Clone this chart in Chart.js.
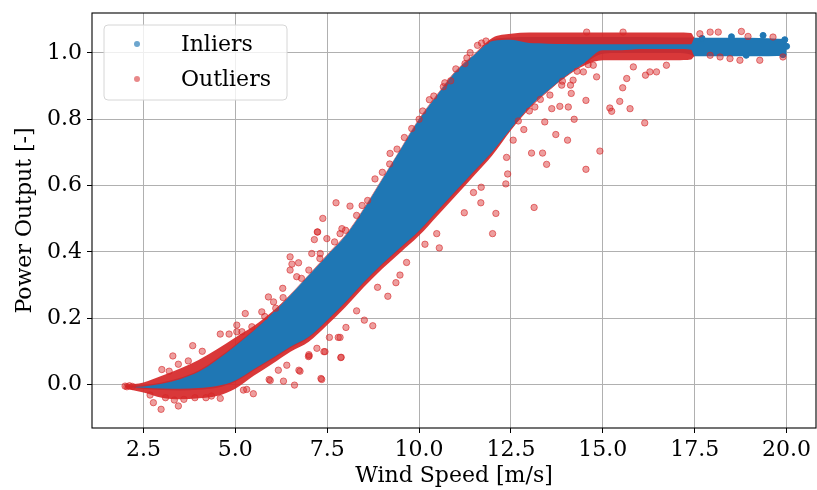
<!DOCTYPE html>
<html>
<head>
<meta charset="utf-8">
<script src="https://cdn.jsdelivr.net/npm/chart.js@4/dist/chart.umd.min.js"></script>
<style>
  html, body { margin: 0; padding: 0; background: #fff; }
  canvas { display: block; }
</style>
</head>
<body>
<canvas id="powerCurve" width="817" height="490"></canvas>
<script>
/* ================================================
   WIND TURBINE POWER CURVE — INLIERS / OUTLIERS
================================================ */

const X_TICKS = [2.5, 5.0, 7.5, 10.0, 12.5, 15.0, 17.5, 20.0];
const Y_TICKS = [0.0, 0.2, 0.4, 0.6, 0.8, 1.0];

// dense point cloud, read as band edges along wind speed
const BAND_SPEED     = [2.0, 2.5, 3.0, 3.5, 4.0, 4.5, 5.0, 5.5, 6.0, 6.5, 7.0, 7.5, 8.0, 8.5, 9.0, 9.5, 10.0, 10.5, 11.0, 11.5, 12.0, 12.5, 13.0, 13.5, 14.0, 14.5, 15.0, 15.5, 16.0, 17.0, 17.4, 17.5, 18.0, 19.0, 20.0];
const INLIER_UPPER   = [-0.004, -0.002, 0.006, 0.02, 0.042, 0.078, 0.12, 0.165, 0.215, 0.27, 0.33, 0.39, 0.45, 0.53, 0.62, 0.71, 0.80, 0.875, 0.945, 0.995, 1.04, 1.047, 1.048, 1.048, 1.048, 1.048, 1.048, 1.048, 1.048, 1.047, 1.047, 1.046, 1.046, 1.046, 1.042];
const INLIER_LOWER   = [-0.008, -0.014, -0.017, -0.018, -0.016, -0.01, 0.008, 0.042, 0.075, 0.11, 0.14, 0.19, 0.245, 0.305, 0.36, 0.41, 0.46, 0.52, 0.58, 0.64, 0.70, 0.77, 0.835, 0.885, 0.93, 0.968, 0.998, 1.0, 1.0, 1.0, 0.995, 0.99, 0.99, 0.99, 0.992];
// dense red fringe on the upper side (plateau strip ends near 17.4 m/s)
const FRINGE_TOP_IN  = [-0.008, -0.006, 0.002, 0.016, 0.038, 0.074, 0.116, 0.162, 0.213, 0.27, 0.33, 0.39, 0.45, 0.53, 0.62, 0.71, 0.80, 0.875, 0.945, 0.995, 1.036, 1.04, 1.03, 1.028, 1.027, 1.026, 1.026, 1.026, 1.026, 1.026, 1.026, 1.046, 1.046, 1.046, 1.042];
const FRINGE_TOP_OUT = [-0.002, 0.006, 0.026, 0.048, 0.074, 0.106, 0.142, 0.176, 0.219, 0.272, 0.332, 0.392, 0.452, 0.532, 0.622, 0.712, 0.802, 0.877, 0.947, 0.997, 1.046, 1.058, 1.062, 1.062, 1.062, 1.062, 1.062, 1.062, 1.062, 1.062, 1.06, 1.046, 1.046, 1.046, 1.042];
// dense red fringe on the lower side
const FRINGE_BOT_IN  = [-0.006, -0.01, -0.012, -0.013, -0.011, -0.005, 0.012, 0.046, 0.079, 0.114, 0.144, 0.194, 0.249, 0.309, 0.364, 0.414, 0.464, 0.524, 0.584, 0.644, 0.703, 0.772, 0.836, 0.886, 0.931, 0.97, 1.008, 1.008, 1.012, 1.012, 1.01, 0.99, 0.99, 0.99, 0.992];
const FRINGE_BOT_OUT = [-0.012, -0.024, -0.04, -0.045, -0.042, -0.035, -0.013, 0.026, 0.062, 0.099, 0.129, 0.179, 0.234, 0.294, 0.349, 0.399, 0.449, 0.509, 0.569, 0.63, 0.692, 0.767, 0.832, 0.883, 0.928, 0.962, 0.978, 0.978, 0.978, 0.978, 0.98, 0.99, 0.99, 0.99, 0.992];

// a few inlier points standing out of the cloud
const INLIER_SPEED = [19.36, 18.5, 19.95, 19.9, 17.7, 18.9, 20.0];
const INLIER_POWER = [1.053, 1.049, 1.04, 0.995, 1.044, 0.993, 1.02];

// sparse outliers away from the dense edges
const OUTLIER_SPEED = [2.0, 2.05, 2.12, 2.2, 2.68, 2.77, 2.98, 3.34, 3.45, 3.1, 3.6, 3.9, 4.2, 4.59, 4.35, 5.22, 5.31, 5.49, 5.92, 5.95, 6.31, 6.61, 6.17, 6.73, 6.76, 7.01, 7.35, 7.41, 7.85, 7.87, 7.44, 7.88, 7.0,
  3.30, 3.45, 3.84, 3.72, 3.0, 3.2, 4.1, 4.59, 4.83, 5.04, 5.04, 5.27, 5.45, 5.18, 5.72, 5.90, 6.04, 6.29, 6.49, 6.54, 6.49, 6.72, 6.67, 7.08, 7.31, 7.24, 7.49, 7.85, 7.15, 7.23, 7.38, 7.74, 8.12,
  5.8, 6.3, 6.8, 7.0, 7.3, 7.7, 8.0, 8.3, 8.6, 9.0, 9.4, 9.6, 10.1, 10.4, 10.7, 11.0, 11.3, 6.1, 7.9, 8.45, 9.2,
  8.30, 8.51, 8.74, 8.87, 9.15, 9.37, 9.48, 9.66, 8.01, 7.56, 7.80, 7.22, 6.99, 6.40, 7.33, 10.16, 10.48, 10.55, 11.23, 11.48, 11.69, 11.68, 12.00, 12.09, 12.36, 12.41, 12.38, 12.56, 12.85, 13.06, 13.13, 13.36, 13.47, 13.42, 13.72, 14.04, 14.22, 13.83, 14.06, 14.14, 14.54, 14.54, 14.92, 13.61, 13.56, 13.15, 13.88, 14.12, 14.19, 14.47, 14.74, 14.83,
  12.7, 13.0, 13.3, 13.9, 14.3, 14.6,
  8.8, 9.21, 9.80, 10.0, 10.28, 10.66, 10.86, 11.25, 11.39, 11.59, 11.82, 11.7,
  15.19, 15.24, 15.46, 15.74, 15.54, 15.65, 15.83, 16.16, 16.28, 16.46, 16.14, 16.73, 14.56, 15.55, 17.64, 17.92, 18.14, 18.77, 18.95, 19.63, 19.90, 19.27, 18.46, 18.73, 17.92, 18.19];
const OUTLIER_POWER = [-0.005, -0.007, -0.004, -0.006, -0.032, -0.055, -0.075, -0.047, -0.065, -0.04, -0.045, -0.04, -0.04, -0.042, -0.035, -0.017, -0.015, -0.028, 0.015, 0.012, 0.01, -0.002, 0.043, 0.043, 0.04, 0.086, 0.015, 0.099, 0.142, 0.081, 0.099, 0.082, 0.09,
  0.086, 0.061, 0.117, 0.071, 0.045, 0.04, 0.1, 0.152, 0.152, 0.159, 0.179, 0.214, 0.174, 0.159, 0.219, 0.264, 0.249, 0.29, 0.385, 0.363, 0.345, 0.367, 0.325, 0.395, 0.395, 0.46, 0.44, 0.455, 0.437, 0.46, 0.501, 0.548, 0.538,
  0.205, 0.262, 0.32, 0.345, 0.38, 0.43, 0.465, 0.51, 0.555, 0.64, 0.71, 0.745, 0.825, 0.87, 0.91, 0.952, 0.985, 0.23, 0.47, 0.54, 0.665,
  0.222, 0.194, 0.177, 0.293, 0.266, 0.307, 0.33, 0.368, 0.172, 0.142, 0.142, 0.109, 0.084, 0.058, 0.018, 0.423, 0.455, 0.412, 0.518, 0.579, 0.595, 0.548, 0.455, 0.516, 0.605, 0.635, 0.685, 0.737, 0.769, 0.698, 0.534, 0.698, 0.664, 0.792, 0.754, 0.737, 0.8, 0.839, 0.837, 0.878, 0.857, 0.649, 0.704, 0.832, 0.873, 0.837, 0.903, 0.903, 0.918, 0.943, 0.963, 0.928,
  0.795, 0.825, 0.86, 0.915, 0.945, 0.965,
  0.62, 0.697, 0.772, 0.8, 0.859, 0.898, 0.916, 0.968, 1.001, 1.023, 1.036, 1.03,
  0.834, 0.824, 0.854, 0.832, 0.895, 0.923, 0.958, 0.933, 0.943, 0.943, 0.789, 0.963, 1.063, 1.063, 1.058, 1.063, 1.063, 1.065, 1.05, 1.048, 0.988, 0.978, 0.983, 0.978, 0.993, 0.988];

const BLUE      = '#1f77b4';
const RED_DENSE = 'rgba(214,39,40,0.92)';
const FONT      = 'DejaVu Serif';
const FRAME_RIGHT_GAP = 1;   // px between plot frame and canvas edge

function toPoints(xs, ys) {
  return xs.map((x, i) => ({ x: x, y: ys[i] }));
}

function bandEdge(ys, order, fill, color) {
  return {
    data: toPoints(BAND_SPEED, ys),
    order: order,
    fill: fill,
    backgroundColor: color,
    borderColor: 'rgba(0,0,0,0)',
    borderWidth: 1,
    pointRadius: 0,
    cubicInterpolationMode: 'monotone',
    legendHidden: true,
  };
}

/* ================================================
   PLUGINS — frame width, spines, in-axes legend
================================================ */
// Chart.js keeps a few px of label overhang on the right; the figure does not
const frameFit = {
  id: 'frameFit',
  afterLayout(chart) {
    const area = chart.chartArea;
    const xs = chart.scales.x;
    const right = chart.width - FRAME_RIGHT_GAP;
    area.right = right;
    area.width = right - area.left;
    xs.right = right;
    xs.width = right - xs.left;
    xs.configure();
  },
};

const spines = {
  id: 'spines',
  afterDatasetsDraw(chart) {
    const { ctx, chartArea: a } = chart;
    ctx.save();
    ctx.strokeStyle = '#000';
    ctx.lineWidth = 1.1;
    ctx.strokeRect(a.left, a.top, a.right - a.left, a.bottom - a.top);
    ctx.restore();
  },
};

const boxLegend = {
  id: 'boxLegend',
  afterDraw(chart) {
    const ctx = chart.ctx;
    const items = chart.data.datasets.filter(d => !d.legendHidden);
    const x = 104, y = 25, w = 183, h = 75, r = 4;
    ctx.save();
    ctx.beginPath();
    ctx.roundRect(x, y, w, h, r);
    ctx.fillStyle = 'rgba(255,255,255,0.8)';
    ctx.fill();
    ctx.strokeStyle = '#d6d6d6';
    ctx.lineWidth = 1;
    ctx.stroke();
    ctx.font = `22px "${FONT}"`;
    ctx.textBaseline = 'middle';
    items.forEach((d, i) => {
      const cy = 44 + i * 35;
      ctx.beginPath();
      ctx.arc(137, cy, 3, 0, Math.PI * 2);
      ctx.fillStyle = d.legendColor;
      ctx.fill();
      ctx.fillStyle = '#000';
      ctx.fillText(d.label, 181, cy + 1);
    });
    ctx.restore();
  },
};

/* ================================================
   CHART
================================================ */
function buildPowerCurve() {
  const ctx = document.getElementById('powerCurve');

  const axisTicks = vals => scale => { scale.ticks = vals.map(v => ({ value: v })); };

  new Chart(ctx, {
    type: 'line',
    data: {
      datasets: [
        // 0,1 — inlier cloud
        bandEdge(INLIER_LOWER, 3, false, BLUE),
        bandEdge(INLIER_UPPER, 3, '-1', BLUE),
        // 2,3 — dense outlier fringe above
        bandEdge(FRINGE_TOP_IN, 2, false, RED_DENSE),
        bandEdge(FRINGE_TOP_OUT, 2, '-1', RED_DENSE),
        // 4,5 — dense outlier fringe below
        bandEdge(FRINGE_BOT_OUT, 2, false, RED_DENSE),
        bandEdge(FRINGE_BOT_IN, 2, '-1', RED_DENSE),
        {
          label: 'Inliers',
          data: toPoints(INLIER_SPEED, INLIER_POWER),
          legendColor: 'rgba(31,119,180,0.65)',
          order: 1,
          showLine: false,
          pointRadius: 3,
          backgroundColor: BLUE,
          borderColor: BLUE,
          borderWidth: 1,
        },
        {
          label: 'Outliers',
          data: toPoints(OUTLIER_SPEED, OUTLIER_POWER),
          legendColor: 'rgba(214,39,40,0.55)',
          order: 0,
          showLine: false,
          pointRadius: 3.2,
          backgroundColor: 'rgba(214,39,40,0.45)',
          borderColor: 'rgba(214,39,40,0.6)',
          borderWidth: 1,
        },
      ],
    },
    options: {
      responsive: false,
      animation: false,
      devicePixelRatio: 1,
      layout: { padding: { top: 13, right: FRAME_RIGHT_GAP, left: 0, bottom: 0 } },
      plugins: { legend: { display: false }, tooltip: { enabled: false } },
      scales: {
        x: {
          type: 'linear',
          min: 1.1,
          max: 20.8,
          afterBuildTicks: axisTicks(X_TICKS),
          afterFit: s => { s.height = 62; s.paddingLeft = 0; s.paddingRight = 0; },
          border: { display: false },
          grid: { color: '#b0b0b0', lineWidth: 1, tickColor: '#000', tickLength: 5, tickWidth: 1 },
          ticks: { color: '#000', padding: 4, maxRotation: 0, font: { family: FONT, size: 22 }, callback: v => v.toFixed(1) },
          title: { display: true, text: 'Wind Speed [m/s]', color: '#000', font: { family: FONT, size: 22 }, padding: { top: 0, bottom: 1 } },
        },
        y: {
          type: 'linear',
          min: -0.1314,
          max: 1.1206,
          afterBuildTicks: axisTicks(Y_TICKS),
          afterFit: s => { s.width = 92; s.paddingTop = 0; s.paddingBottom = 0; },
          border: { display: false },
          grid: { color: '#b0b0b0', lineWidth: 1, tickColor: '#000', tickLength: 5, tickWidth: 1 },
          ticks: { color: '#000', padding: 5, font: { family: FONT, size: 22 }, callback: v => v.toFixed(1) },
          title: { display: true, text: 'Power Output [-]', color: '#000', font: { family: FONT, size: 22 }, padding: { top: 12, bottom: 0 } },
        },
      },
    },
    plugins: [frameFit, spines, boxLegend],
  });
}

buildPowerCurve();
</script>
</body>
</html>
